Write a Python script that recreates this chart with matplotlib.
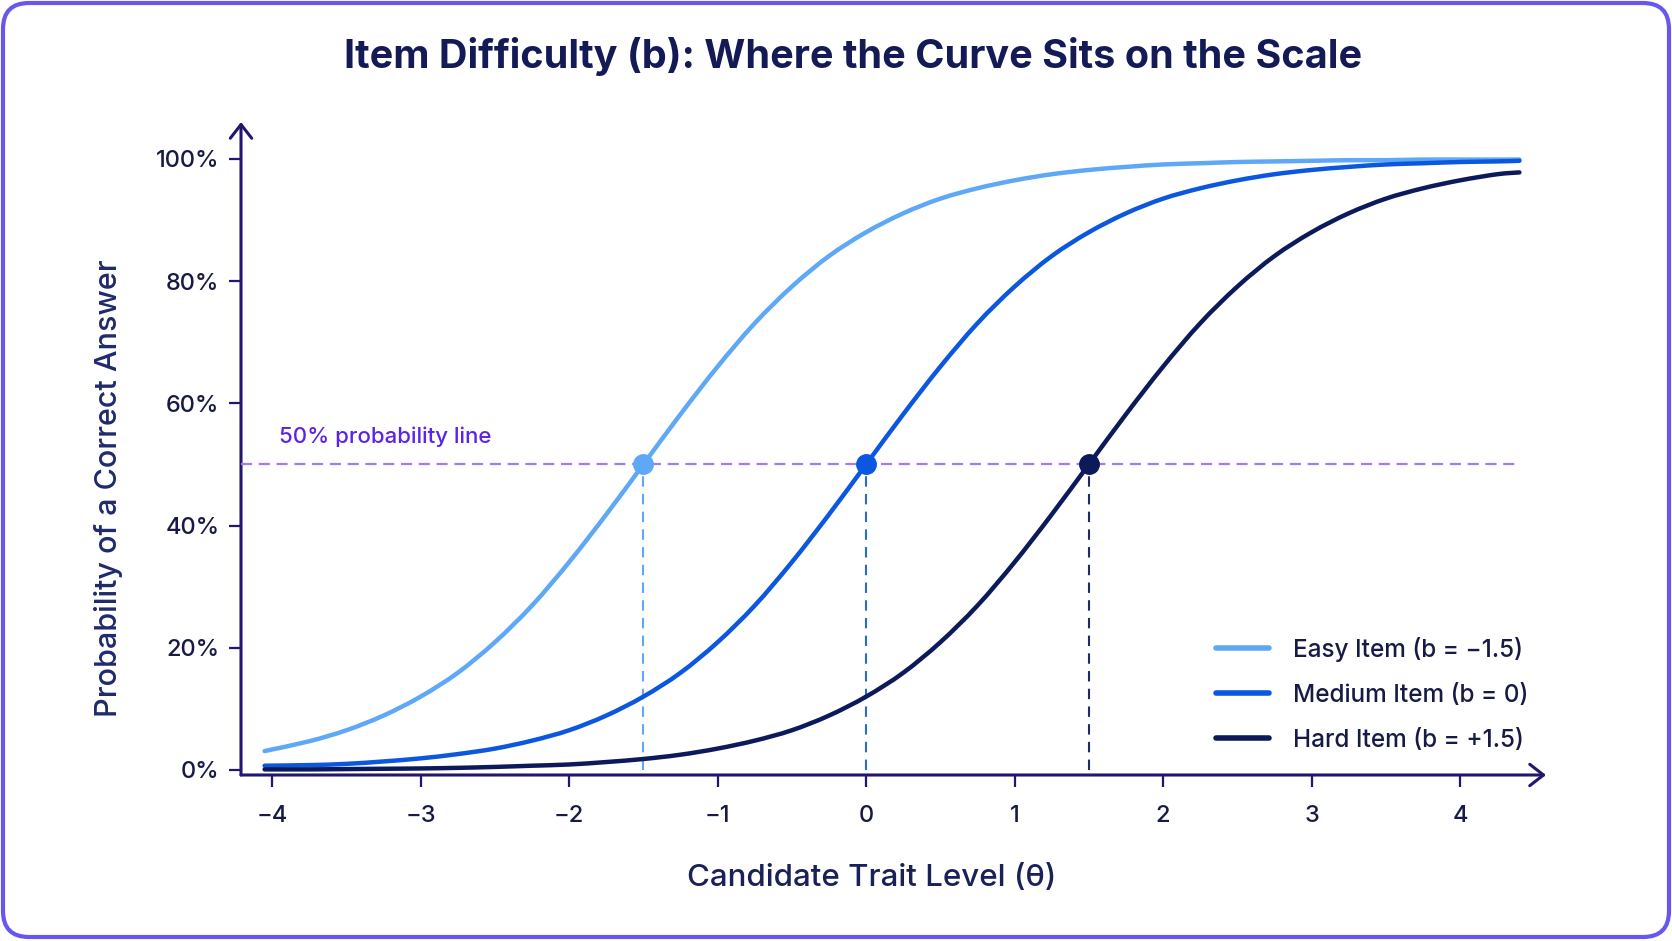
import matplotlib
matplotlib.use("Agg")
import numpy as np
import matplotlib.pyplot as plt
from matplotlib.patches import FancyBboxPatch, PathPatch
from matplotlib.path import Path
from matplotlib.lines import Line2D
from matplotlib.ticker import PercentFormatter

# values
theta = [-4.05, -3.75, -3.5, -3.25, -3.0, -2.75, -2.5, -2.25, -2.0, -1.75,
         -1.5, -1.25, -1.0, -0.75, -0.5, -0.25, 0.0, 0.25, 0.5, 0.75,
         1.0, 1.25, 1.5, 1.75, 2.0, 2.25, 2.5, 2.75, 3.0, 3.25,
         3.5, 3.75, 4.0, 4.25, 4.4]
easy_p = [0.031, 0.047, 0.065, 0.089, 0.120, 0.159, 0.209, 0.269, 0.340, 0.418,
          0.500, 0.582, 0.660, 0.731, 0.791, 0.841, 0.880, 0.911, 0.935, 0.952,
          0.965, 0.975, 0.982, 0.987, 0.991, 0.993, 0.995, 0.996, 0.997, 0.998,
          0.998, 0.999, 0.999, 0.999, 0.999]
medium_p = [0.007, 0.008, 0.010, 0.014, 0.019, 0.026, 0.035, 0.048, 0.065, 0.089,
            0.120, 0.159, 0.209, 0.269, 0.340, 0.418, 0.500, 0.582, 0.660, 0.731,
            0.791, 0.841, 0.880, 0.911, 0.935, 0.952, 0.965, 0.975, 0.982, 0.987,
            0.991, 0.993, 0.995, 0.996, 0.997]
hard_p = [0.001, 0.001, 0.0015, 0.002, 0.0025, 0.0035, 0.005, 0.007, 0.009, 0.013,
          0.018, 0.025, 0.035, 0.048, 0.065, 0.089, 0.120, 0.159, 0.209, 0.269,
          0.340, 0.418, 0.500, 0.582, 0.660, 0.731, 0.791, 0.841, 0.880, 0.911,
          0.935, 0.952, 0.965, 0.975, 0.978]

difficulty = [-1.5, 0.0, 1.5]
labels = ["Easy Item (b = \u22121.5)", "Medium Item (b = 0)", "Hard Item (b = +1.5)"]
colors = ["#5ea8f7", "#0b57e0", "#0c1a5b"]
vline_colors = ["#5ea8f7", "#2a68de", "#1f2a66"]
x_ticks = [-4, -3, -2, -1, 0, 1, 2, 3, 4]
y_ticks = [0.0, 0.2, 0.4, 0.6, 0.8, 1.0]

FONT = ["Inter", "DejaVu Sans"]
plt.rcParams["font.family"] = FONT
AXIS_COLOR = "#22166e"
TEXT_COLOR = "#171a45"


def smooth_path(x, y):
    # Catmull-Rom through the read points, drawn as cubic Bezier segments
    pts = np.column_stack([x, y])
    n = len(pts)
    verts = [pts[0]]
    codes = [Path.MOVETO]
    for i in range(n - 1):
        p0 = pts[i - 1] if i > 0 else pts[i]
        p1, p2 = pts[i], pts[i + 1]
        p3 = pts[i + 2] if i + 2 < n else pts[i + 1]
        verts += [p1 + (p2 - p0) / 6, p2 - (p3 - p1) / 6, p2]
        codes += [Path.CURVE4] * 3
    return Path(verts, codes)


fig = plt.figure(figsize=(16.72, 9.41), dpi=100)
fig.patch.set_facecolor("white")

border = FancyBboxPatch((0.03, 0.04), 16.66, 9.34,
                        boxstyle="round,pad=0,rounding_size=0.26",
                        transform=fig.dpi_scale_trans,
                        facecolor="none", edgecolor="#6557f0", lw=3.0, zorder=-1)
fig.patches.append(border)

ax = fig.add_axes([241 / 1672, 1 - 775 / 941, (1546 - 241) / 1672, (775 - 122) / 941])
ax.set_facecolor("none")
ax.set_xlim(-4.209, 4.579)
ax.set_ylim(-0.0082, 1.0605)

for sp in ax.spines.values():
    sp.set_visible(False)

# axes with arrow heads
arrow = dict(arrowstyle="->,head_length=0.45,head_width=0.35", color=AXIS_COLOR,
             lw=2.2, mutation_scale=22, shrinkA=0, shrinkB=0)
ax.annotate("", xy=(1, 0), xytext=(0, 0), xycoords="axes fraction",
            textcoords="axes fraction", arrowprops=arrow, zorder=2)
ax.annotate("", xy=(0, 1), xytext=(0, 0), xycoords="axes fraction",
            textcoords="axes fraction", arrowprops=arrow, zorder=2)

series = [easy_p, medium_p, hard_p]
handles = []
for p, b, lab, c, vc in zip(series, difficulty, labels, colors, vline_colors):
    ax.add_patch(PathPatch(smooth_path(theta, p), facecolor="none", edgecolor=c,
                           lw=3.2, capstyle="round", zorder=4))
    ax.plot([b, b], [0, 0.5], color=vc, lw=1.5, dashes=(5, 3.5), zorder=3)
    ax.plot([b], [0.5], "o", color=c, markersize=14, zorder=5)
    handles.append(Line2D([], [], color=c, lw=4.0, solid_capstyle="round", label=lab))

ax.plot([-4.209, 4.4], [0.5, 0.5], color="#a57af2", lw=1.6, dashes=(5, 3), zorder=2)
ax.text(-3.953, 0.545, "50% probability line", color="#5b24e8", fontsize=16,
        ha="left", va="center", fontweight="medium")

ax.set_xticks(x_ticks)
ax.set_yticks(y_ticks)
ax.yaxis.set_major_formatter(PercentFormatter(1.0, decimals=0))
ax.tick_params(axis="both", colors=AXIS_COLOR, labelcolor=TEXT_COLOR,
               labelsize=17, length=8.5, width=1.6, direction="out")
ax.tick_params(axis="x", pad=13)
ax.tick_params(axis="y", pad=7)
for t in ax.get_xticklabels() + ax.get_yticklabels():
    t.set_fontweight("medium")

leg = ax.legend(handles=handles, loc="upper left",
                bbox_to_anchor=(1216 / 1672, 1 - 637 / 941),
                bbox_transform=fig.transFigure, frameon=False, fontsize=17.5,
                handlelength=2.2, handletextpad=0.95, labelspacing=0.9,
                borderpad=0, borderaxespad=0)
for t in leg.get_texts():
    t.set_color(TEXT_COLOR)
    t.set_fontweight("medium")

fig.text(853 / 1672, 1 - 56 / 941,
         "Item Difficulty (b): Where the Curve Sits on the Scale",
         ha="center", va="center", fontsize=28.5, fontweight="bold", color="#131a55")
fig.text(109 / 1672, 1 - 488 / 941, "Probability of a Correct Answer",
         rotation=90, ha="center", va="center", fontsize=22, color="#1f2a6b",
         fontweight="medium")
fig.text(872 / 1672, 1 - 878 / 941, "Candidate Trait Level (\u03b8)",
         ha="center", va="center", fontsize=22.5, color="#1a2158",
         fontweight="medium")

fig.savefig("out.png", dpi=100, facecolor="white")
